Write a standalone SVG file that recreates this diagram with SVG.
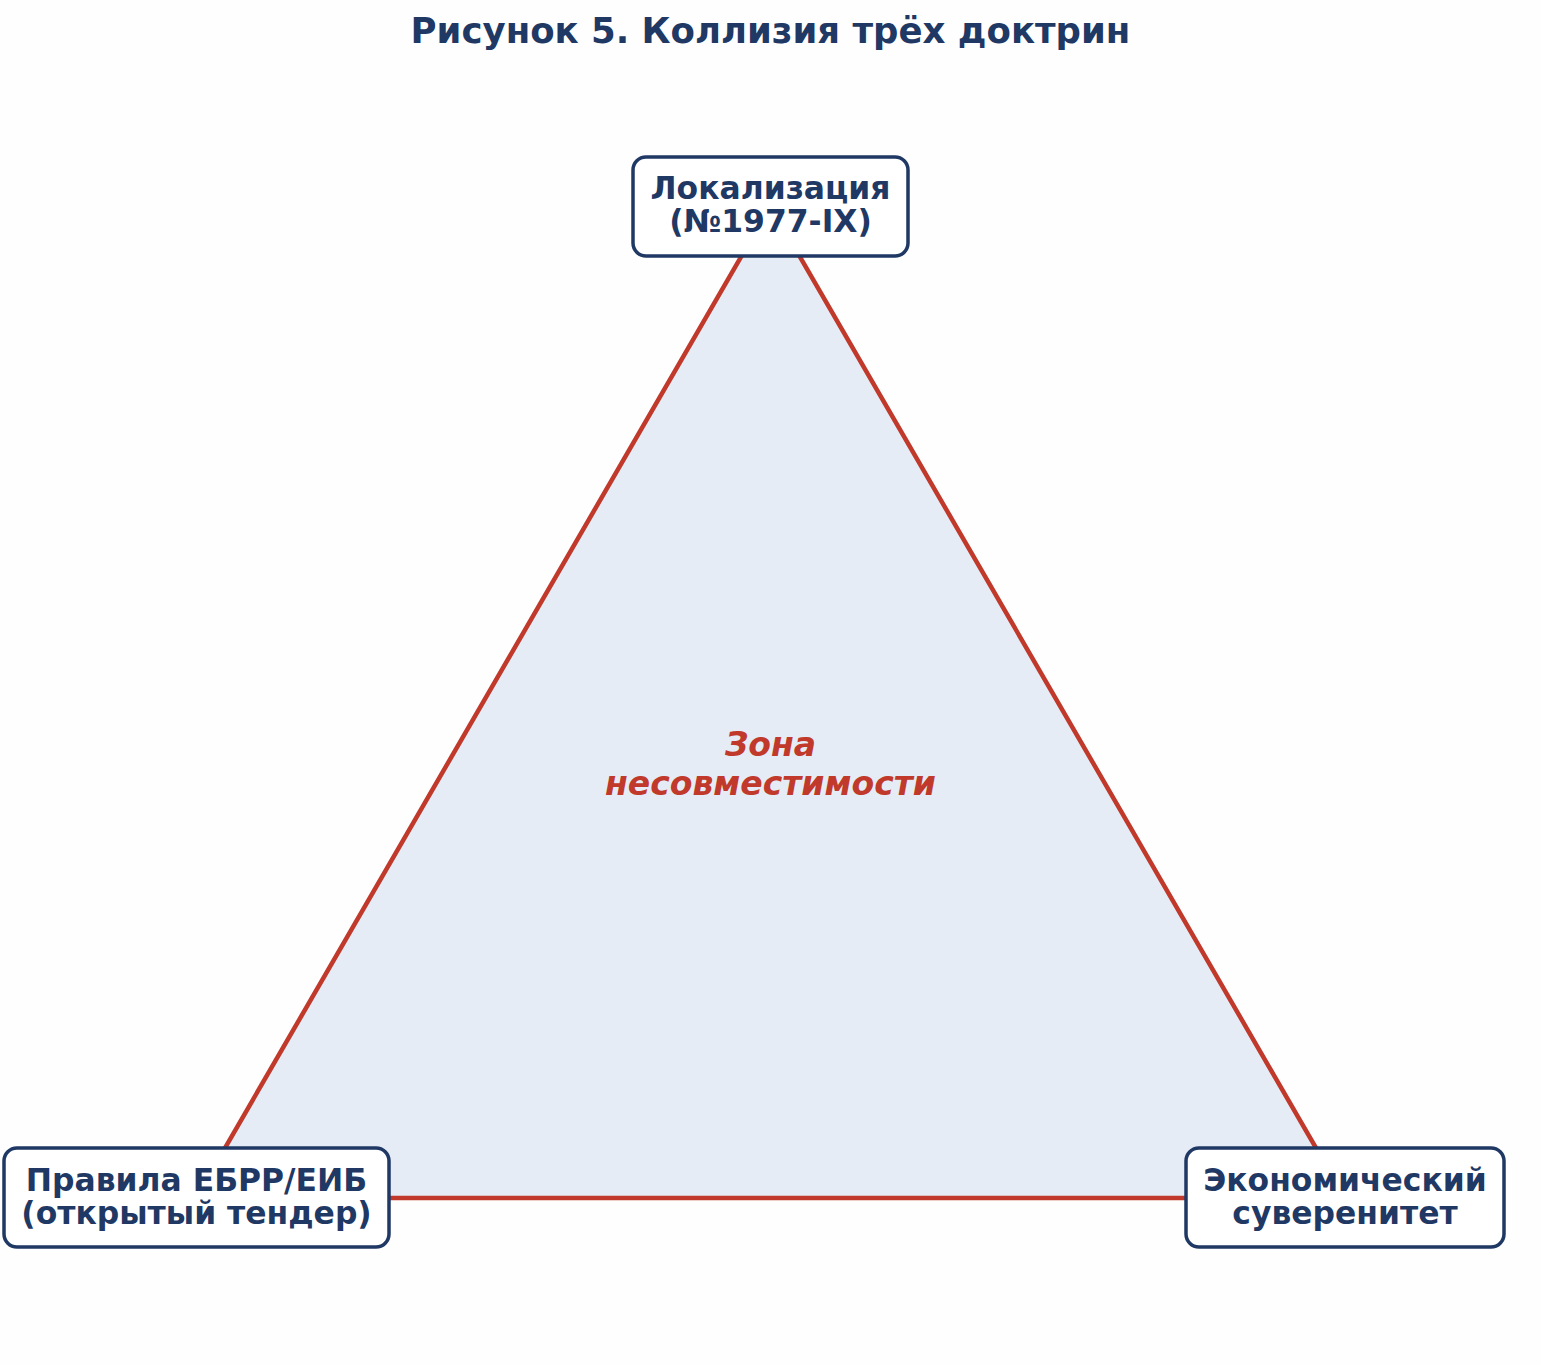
<svg xmlns="http://www.w3.org/2000/svg" width="1541" height="1365" viewBox="0 0 1541 1365">
<style>
.box{fill:#ffffff;stroke:#1f3864;stroke-width:3.5}
.lbl{font-family:"DejaVu Sans",sans-serif;font-weight:bold;font-size:31.4px;fill:#1f3864;text-anchor:middle}
.title{font-family:"DejaVu Sans",sans-serif;font-weight:bold;font-size:35.5px;fill:#1f3864;text-anchor:middle}
.zone{font-family:"DejaVu Sans",sans-serif;font-weight:bold;font-style:italic;font-size:33px;fill:#c0392b;text-anchor:middle}
</style>
<rect width="1541" height="1365" fill="#fefefe"/>
<text class="title" x="770.5" y="43">Рисунок 5. Коллизия трёх доктрин</text>
<g id="connectors">
<polygon points="770.5,206 196,1198 1345,1198" fill="#e6ecf5" stroke="#c0392b" stroke-width="4.5" stroke-linejoin="miter"/>
</g>
<text class="zone" x="770.5" y="756">Зона</text>
<text class="zone" x="770.5" y="795">несовместимости</text>
<g id="node-top">
<rect class="box" x="633" y="157" width="275" height="99" rx="13"/>
<text class="lbl" x="770.5" y="199">Локализация</text>
<text class="lbl" x="770.5" y="232">(№1977-IX)</text>
</g>
<g id="node-left">
<rect class="box" x="4" y="1148" width="385" height="99" rx="13"/>
<text class="lbl" x="196.5" y="1191">Правила ЕБРР/ЕИБ</text>
<text class="lbl" x="196.5" y="1224">(открытый тендер)</text>
</g>
<g id="node-right">
<rect class="box" x="1186" y="1148" width="318" height="99" rx="13"/>
<text class="lbl" x="1345" y="1191">Экономический</text>
<text class="lbl" x="1345" y="1224">суверенитет</text>
</g>
</svg>
